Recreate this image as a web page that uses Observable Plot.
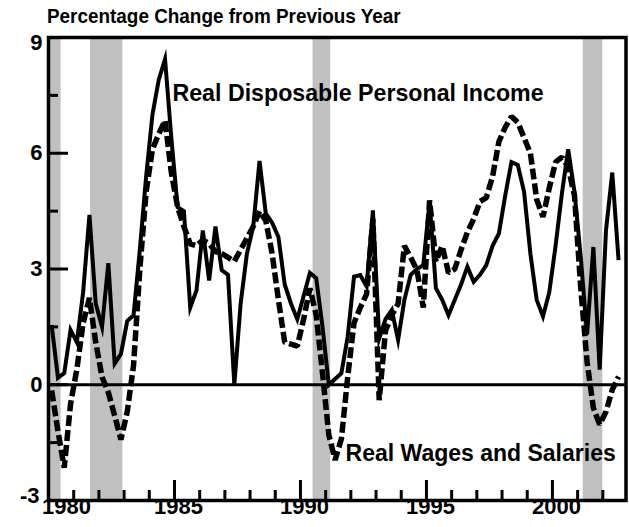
<!DOCTYPE html>
<html><head><meta charset="utf-8">
<script src="https://cdn.jsdelivr.net/npm/d3@7"></script>
<script src="https://cdn.jsdelivr.net/npm/@observablehq/plot@0.6"></script>
<style>
body{margin:0;background:#fff;}
#wrap{position:relative;width:629px;height:527px;}
#title{position:absolute;left:47px;top:4px;font:bold 21px "Liberation Sans",Arial,sans-serif;white-space:nowrap;color:#000;line-height:24px;transform:scaleX(0.9);transform-origin:0 0;}
</style></head><body>
<div id="wrap"><div id="title">Percentage Change from Previous Year</div></div>
<script>
// Quarterly data, 1980Q1 .. 2002Q3 (percent change from a year earlier)
const firstYear = 1980;
const rdpi = [1.55,0.18,0.3,1.42, 1.1,2.4,4.4,2.1, 1.5,3.15,0.55,0.8, 1.65,1.8,3.5,5.4,
  7.0,7.9,8.44,6.4, 4.6,4.5,2.0,2.45, 4.0,2.7,4.1,2.97, 2.85,0.0,2.1,3.4,
  4.1,5.8,4.44,4.2, 3.83,2.6,2.1,1.7, 2.3,2.9,2.76,1.5, 0.0,0.15,0.3,1.25,
  2.8,2.84,2.55,4.52, 1.2,1.7,1.94,1.16, 2.2,2.85,3.0,3.1, 4.75,2.5,2.2,1.8,
  2.2,2.6,3.06,2.67, 2.85,3.1,3.6,3.92, 4.9,5.77,5.7,5.0, 3.4,2.2,1.77,2.4,
  3.6,4.95,6.1,5.0, 3.3,1.3,3.57,0.39, 4.0,5.5,3.23];
const wages = [-0.15,-1.2,-2.15,-0.5, 0.4,1.6,2.25,1.1, 0.2,-0.2,-0.8,-1.42, -0.7,0.5,3.0,5.0,
  6.1,6.5,6.85,5.5, 4.6,4.1,3.65,3.6, 3.75,3.66,3.45,3.4, 3.3,3.2,3.5,3.8,
  4.1,4.5,4.25,3.4, 2.2,1.1,1.05,1.0, 1.7,2.5,1.8,0.3, -1.3,-1.95,-1.4,0.2,
  1.6,2.0,2.35,4.3, -0.4,1.4,1.8,2.1, 3.6,3.3,2.97,2.0, 4.78,3.2,3.6,2.9,
  3.0,3.5,3.95,4.3, 4.75,4.85,5.4,6.3, 6.67,6.95,6.8,6.4, 6.0,4.8,4.35,5.1,
  5.77,5.9,5.64,4.9, 2.5,0.6,-0.6,-1.03, -0.7,-0.13,0.21];
const recessionStart = [1980.0, 1981.67, 1990.5, 2001.22];
const recessionEnd   = [1980.5, 1982.95, 1991.2, 2002.0];
const yLabelTicks = [-3, 0, 3, 6, 9];
const yMajorTicks = [0, 3, 6];
const yMinorTicks = [-1.5, 1.5, 4.5, 7.5];
const xLabelTicks = [1980, 1985, 1990, 1995, 2000];
const xMinorTicks = [1981,1982,1983,1984,1986,1987,1988,1989,1991,1992,1993,1994,1996,1997,1998,1999,2001,2002];
const seriesNames = ["Real Disposable Personal Income", "Real Wages and Salaries"];

const toRows = (vals) => vals.map((v, i) => ({date: firstYear + i / 4 + 0.125, value: v}));
const rdpiRows = toRows(rdpi);
const wageRows = toRows(wages);
const recessions = recessionStart.map((s, i) => ({start: s, end: recessionEnd[i]}));

const W = 629, H = 527, mL = 48, mR = 3.5, mT = 37, mB = 27;
const plotW = W - mL - mR, plotH = H - mT - mB;
const font = "Liberation Sans, Arial, sans-serif";
const labelStyle = {fontSize: 22, fontWeight: "bold", fill: "black"};

const chart = Plot.plot({
  width: W, height: H,
  marginTop: mT, marginBottom: mB, marginLeft: mL, marginRight: mR,
  style: {fontFamily: font, background: "transparent", overflow: "visible"},
  x: {domain: [1980, 2002.92], axis: null},
  y: {domain: [-3, 9], axis: null},
  marks: [
    Plot.rect(recessions, {x1: "start", x2: "end", fill: "#c0c0c0"}),
    Plot.ruleY([0], {stroke: "black", strokeWidth: 3}),
    Plot.line(wageRows, {x: "date", y: "value", stroke: "black", strokeWidth: 5.5,
      strokeDasharray: "11,4", strokeLinecap: "butt", strokeLinejoin: "miter"}),
    Plot.line(rdpiRows, {x: "date", y: "value", stroke: "black", strokeWidth: 4,
      strokeLinecap: "butt", strokeLinejoin: "miter", strokeMiterlimit: 6}),
    Plot.tickY(yMajorTicks, {y: d => d, insetRight: plotW - 20, stroke: "black", strokeWidth: 3}),
    Plot.tickY(yMinorTicks, {y: d => d, insetRight: plotW - 10, stroke: "black", strokeWidth: 3}),
    Plot.tickX(xLabelTicks, {x: d => d, insetTop: plotH - 20, stroke: "black", strokeWidth: 3}),
    Plot.tickX(xMinorTicks, {x: d => d, insetTop: plotH - 10, stroke: "black", strokeWidth: 3}),
    Plot.frame({stroke: "black", strokeWidth: 3.5}),
    Plot.text(yLabelTicks.filter(d => d > -3 && d < 9), {y: d => d, text: d => String(d), frameAnchor: "left",
      textAnchor: "end", dx: -6, ...labelStyle}),
    Plot.text(yLabelTicks.filter(d => d === 9), {y: d => d, text: d => String(d), frameAnchor: "left",
      textAnchor: "end", dx: -6, dy: 5, ...labelStyle}),
    Plot.text(yLabelTicks.filter(d => d === -3), {y: d => d, text: d => String(d), frameAnchor: "left",
      textAnchor: "end", dx: -9, dy: -5, ...labelStyle}),
    Plot.text(xLabelTicks.filter(d => d === 1980), {x: d => d, text: d => String(d), frameAnchor: "bottom",
      dx: 18, dy: 13, ...labelStyle}),
    Plot.text(xLabelTicks.filter(d => d > 1980), {x: d => d, text: d => String(d), frameAnchor: "bottom",
      dx: 4, dy: 13, ...labelStyle}),
    Plot.text([seriesNames[0]], {x: 1984.92, y: 7.55, text: d => d, textAnchor: "start",
      fontSize: 23.2, fontWeight: "bold", fill: "black"}),
    Plot.text([seriesNames[1]], {x: 1991.79, y: -1.78, text: d => d, textAnchor: "start",
      fontSize: 23, fontWeight: "bold", fill: "black"})
  ]
});
chart.style.position = "absolute";
chart.style.left = "0px";
chart.style.top = "0px";
document.getElementById("wrap").appendChild(chart);
</script>
</body></html>
